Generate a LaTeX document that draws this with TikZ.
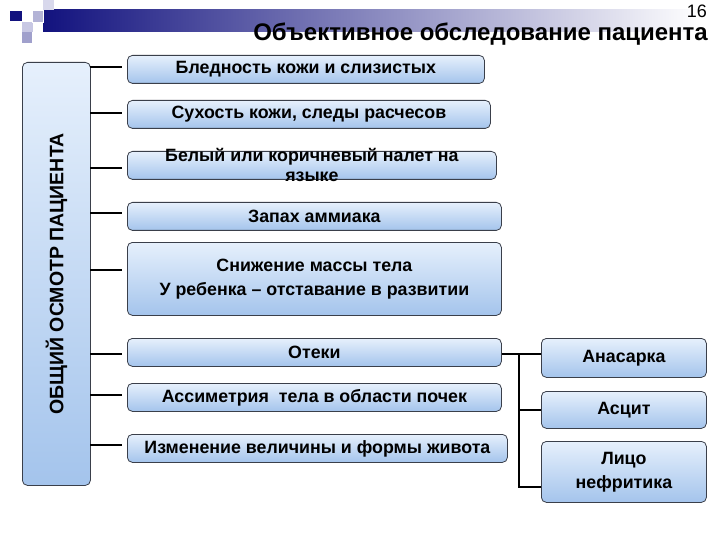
\documentclass[tikz,border=0pt]{standalone}
\usepackage{fontspec}
\setmainfont{Liberation Sans}
\definecolor{boxtop}{HTML}{E6F0FC}
\definecolor{boxbot}{HTML}{A4C4EC}
\definecolor{boxline}{HTML}{3A3F4A}
\definecolor{hdrblue}{HTML}{12127E}
\definecolor{sqlight}{HTML}{C8C8E4}
\definecolor{sqmid}{HTML}{A0A0CC}
\begin{document}
\begin{tikzpicture}[x=1pt,y=-1pt,
  box/.style={draw=boxline, line width=0.8pt, rounded corners=5pt,
    top color=boxtop, bottom color=boxbot, anchor=north west,
    font=\fontsize{17.8}{21}\selectfont\bfseries, align=center, inner sep=0pt},
  conn/.style={line width=1.8pt, black}]
\useasboundingbox (0,0) rectangle (720,540);
\fill[white] (0,0) rectangle (720,540);
% header decoration
\shade[left color=hdrblue, right color=white] (43,10) rectangle (700,32);
\fill[hdrblue] (10,11) rectangle (22,21);
\fill[sqlight] (22,22) rectangle (33,32);
\fill[sqmid] (22,32) rectangle (32,43);
\fill[sqlight!70] (43,0) rectangle (54,10);
\fill[sqmid!80] (32,10) rectangle (43,22);
\draw[white, line width=0.6pt] (32,10) rectangle (43,22);
\node[anchor=north east, font=\fontsize{18}{20}\selectfont, inner sep=0pt] (num) at (707,5) {16};
\node[anchor=base east, font=\fontsize{24}{26}\selectfont\bfseries, inner sep=0pt] (title) at (708,41) {Объективное обследование пациента};
% left big box
\node[box, minimum width=68, minimum height=423] (main) at (22,62) {};
\node[rotate=90, font=\fontsize{19.5}{22}\selectfont\bfseries] (mainlabel) at (main.center) {ОБЩИЙ ОСМОТР ПАЦИЕНТА};
% boxes
\node[box, minimum width=357, minimum height=28] (b1) at (127,55) {Бледность кожи и слизистых};
\node[box, minimum width=363, minimum height=28] (b2) at (127,100) {Сухость кожи, следы расчесов};
\node[box, minimum width=369, minimum height=28] (b3) at (127,151) {};
\node[font=\fontsize{17.8}{20}\selectfont\bfseries, align=center, inner sep=0pt] (b3t) at (b3.center) {Белый или коричневый налет на\\языке};
\node[box, minimum width=374, minimum height=28] (b4) at (127,202) {Запах аммиака};
\node[box, minimum width=374, minimum height=73, font=\fontsize{17.8}{24}\selectfont\bfseries] (b5) at (127,242) {Снижение массы тела\\У ребенка – отставание в развитии};
\node[box, minimum width=374, minimum height=28] (b6) at (127,338) {Отеки};
\node[box, minimum width=374, minimum height=28] (b7) at (127,383) {Ассиметрия\ \ тела в области почек};
\node[box, minimum width=380, minimum height=28] (b8) at (127,434) {Изменение величины и формы живота};
% right boxes
\node[box, minimum width=165, minimum height=39] (r1) at (541,338) {Анасарка};
\node[box, minimum width=165, minimum height=37] (r2) at (541,391) {Асцит};
\node[box, minimum width=165, minimum height=61, font=\fontsize{17.8}{24}\selectfont\bfseries] (r3) at (541,441) {Лицо\\нефритика};
% left connectors
\coordinate (c1) at (90,67);
\coordinate (c2) at (90,113);
\coordinate (c3) at (90,168);
\coordinate (c4) at (90,213);
\coordinate (c5) at (90,270);
\coordinate (c6) at (90,354);
\coordinate (c7) at (90,395);
\coordinate (c8) at (90,445);
\foreach \i in {1,...,8}{
  \draw[conn, shorten >=5pt] (c\i) -- (c\i -| b\i.west);
}
% right connectors
\coordinate (vx) at (519,354);
\draw[conn] (b6.east |- vx) -- (r1.west |- vx);
\draw[conn] (vx) -- (519,487) -- (r3.west |- 0,487);
\draw[conn] (519,410) -- (r2.west |- 0,410);
\end{tikzpicture}
\end{document}
